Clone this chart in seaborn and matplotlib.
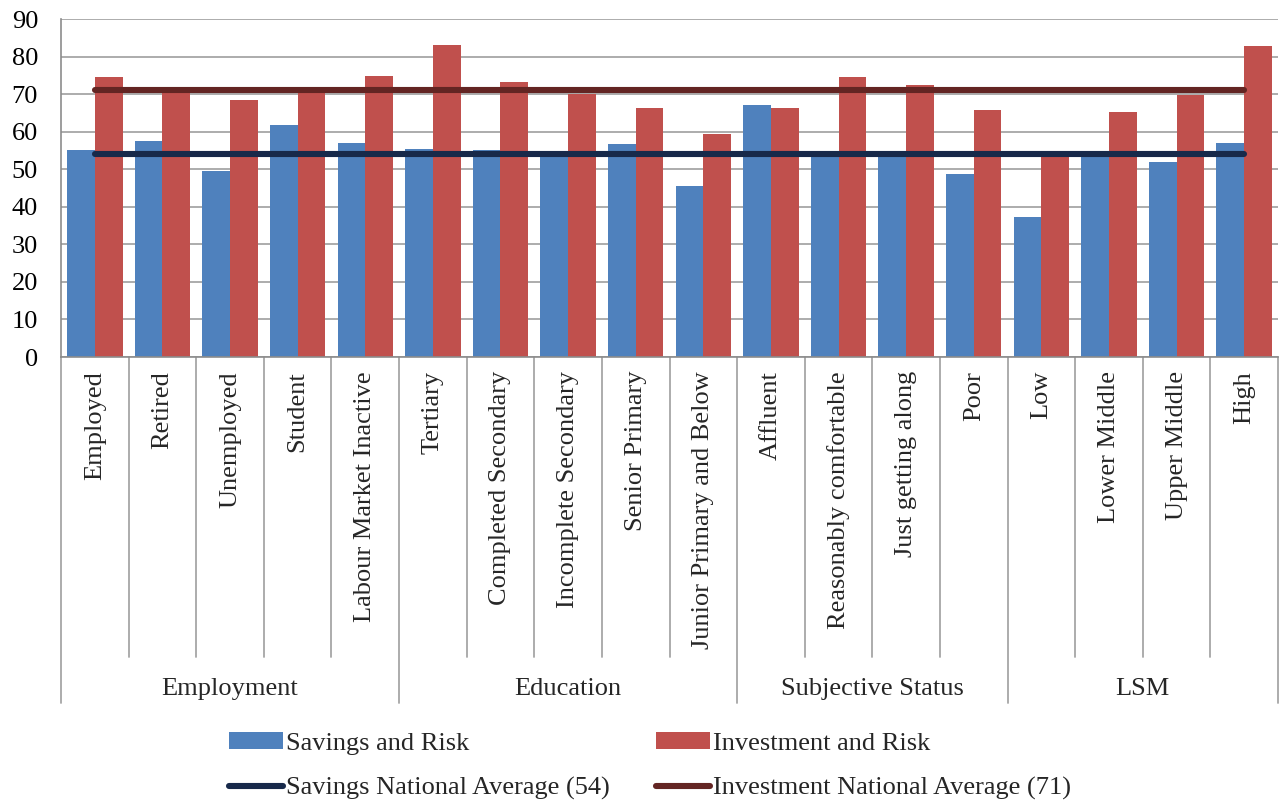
import matplotlib
matplotlib.use("Agg")
import matplotlib.pyplot as plt
from matplotlib.lines import Line2D
from matplotlib.patches import Patch
import pandas as pd
import seaborn as sns

# ---- data -------------------------------------------------------------
categories = [
    "Employed", "Retired", "Unemployed", "Student", "Labour Market Inactive",
    "Tertiary", "Completed Secondary", "Incomplete Secondary", "Senior Primary",
    "Junior Primary and Below",
    "Affluent", "Reasonably comfortable", "Just getting along", "Poor",
    "Low", "Lower Middle", "Upper Middle", "High",
]
groups = ["Employment", "Education", "Subjective Status", "LSM"]
group_sizes = [5, 5, 4, 4]

savings = [55.0, 57.4, 49.6, 61.9, 57.1,
           55.3, 55.0, 54.3, 56.7, 45.4,
           67.0, 54.2, 54.2, 48.6,
           37.3, 54.2, 52.0, 57.1]
investment = [74.5, 71.5, 68.4, 71.2, 74.8,
              83.1, 73.1, 70.0, 66.3, 59.5,
              66.3, 74.5, 72.4, 65.7,
              53.6, 65.3, 69.8, 82.7]
series_names = ["Savings and Risk", "Investment and Risk"]
savings_avg = 54
investment_avg = 71
avg_labels = ["Savings National Average (54)", "Investment National Average (71)"]
y_ticks = [0, 10, 20, 30, 40, 50, 60, 70, 80, 90]

# ---- styling ----------------------------------------------------------
sns.set_style("white")
plt.rcParams["font.family"] = ["Liberation Serif", "DejaVu Serif"]
FS = 19
BLUE = "#4F81BD"
RED = "#C0504D"
NAVY = "#17294A"
MAROON = "#632523"
GRID = "#A6A6A6"
AXIS = "#8C8C8C"

df = pd.DataFrame({
    "category": categories * 2,
    "series": [series_names[0]] * len(categories) + [series_names[1]] * len(categories),
    "value": savings + investment,
})

fig = plt.figure(figsize=(12.82, 8.0), dpi=100)
ax_left, ax_right = 61 / 1282, 1278 / 1282
ax_bottom, ax_top = (800 - 357) / 800, (800 - 19) / 800
ax = fig.add_axes([ax_left, ax_bottom, ax_right - ax_left, ax_top - ax_bottom])

sns.barplot(data=df, x="category", y="value", hue="series",
            order=categories, hue_order=series_names,
            palette=[BLUE, RED], saturation=1, width=0.82,
            dodge=True, legend=False, ax=ax, linewidth=0, errorbar=None)

# national average lines across the category centres
n = len(categories)
ax.plot([0, n - 1], [investment_avg] * 2, color=MAROON, lw=4.4,
        solid_capstyle="round", zorder=4)
ax.plot([0, n - 1], [savings_avg] * 2, color=NAVY, lw=4.4,
        solid_capstyle="round", zorder=5)

ax.set_xlim(-0.5, n - 0.5)
ax.set_ylim(0, 90)
ax.set_yticks(y_ticks)
ax.set_yticklabels([str(t) for t in y_ticks], fontsize=FS)
ax.yaxis.grid(True, color=GRID, lw=1.3)
ax.set_axisbelow(True)
ax.set_xlabel("")
ax.set_ylabel("")

for side in ("top", "right"):
    ax.spines[side].set_visible(False)
ax.spines["left"].set_color(AXIS)
ax.spines["bottom"].set_color(AXIS)
ax.spines["left"].set_linewidth(1.2)
ax.spines["bottom"].set_linewidth(1.2)
ax.tick_params(axis="y", direction="out", length=6.5, width=1.0, color=AXIS,
               pad=10, labelsize=FS, labelcolor="#000000")

# category labels, rotated
ax.set_xticks(range(n))
ax.set_xticklabels(categories, rotation=90, fontsize=FS, va="top", ha="center")
ax.tick_params(axis="x", length=0, pad=10)

# separators below the axis: short between categories, long between groups
trans = ax.get_xaxis_transform()
ax_h = 357 - 19
short_end = -(657 - 357) / ax_h
long_end = -(703 - 357) / ax_h
group_edges = [-0.5]
for s in group_sizes:
    group_edges.append(group_edges[-1] + s)
for b in [i - 0.5 for i in range(n + 1)]:
    end = long_end if b in group_edges else short_end
    ax.add_line(Line2D([b, b], [0, end], transform=trans, color=GRID,
                       lw=1.3, clip_on=False))

label_y = -(689 - 357) / ax_h
for g, lo, hi in zip(groups, group_edges[:-1], group_edges[1:]):
    ax.text((lo + hi) / 2, label_y, g, transform=trans, ha="center",
            va="center", fontsize=FS)

# legend
handles = [
    Patch(facecolor=BLUE, edgecolor="none"),
    Line2D([0], [0], color=NAVY, lw=4.4, solid_capstyle="round"),
    Patch(facecolor=RED, edgecolor="none"),
    Line2D([0], [0], color=MAROON, lw=4.4, solid_capstyle="round"),
]
labels = [series_names[0], avg_labels[0], series_names[1], avg_labels[1]]
fig.legend(handles, labels, ncol=2, loc="upper left",
           bbox_to_anchor=(229 / 1282, 1 - 732 / 800), frameon=False,
           fontsize=FS, handlelength=2.05, handleheight=0.6,
           handletextpad=0.12, columnspacing=1.75, labelspacing=0.85,
           borderpad=0, borderaxespad=0)

fig.savefig("out.png", dpi=100)
